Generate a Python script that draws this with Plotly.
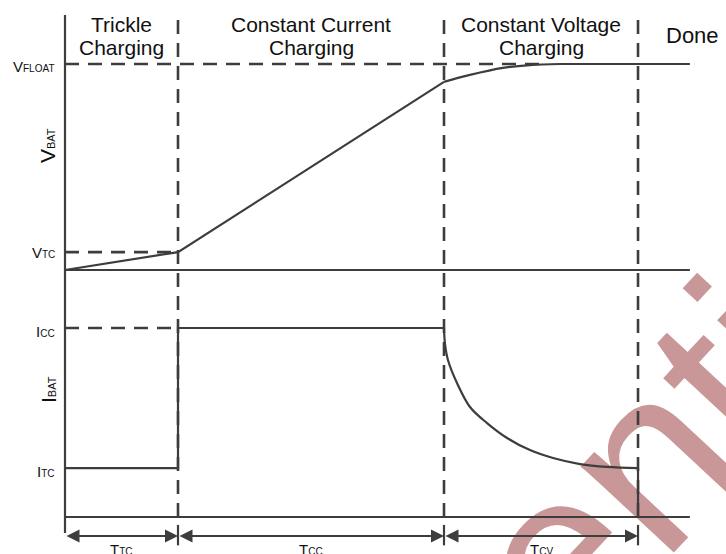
import plotly.graph_objects as go

W, H = 726, 554
INK = "#3d3d3d"
TXT = "#111111"
FONT = "Liberation Sans, Arial, sans-serif"

# time axis (trickle phase = 1 unit): ends of trickle, CC and CV phases, end of trace
phase_ends = [1.0, 3.354, 5.071]
t_stop = 5.53
phase_head = [["Trickle", "Charging"], ["Constant Current", "Charging"],
              ["Constant Voltage", "Charging"]]
phase_time = [("T", "TC"), ("T", "CC"), ("T", "CV")]

# levels: voltage normalised to V_FLOAT, current normalised to I_CC
v_float, v_tc = 1.0, 0.087
i_cc, i_tc = 1.0, 0.259

# battery voltage: trickle + CC ramp, then CV knee
vbat_t = [0.0, 1.0, 3.354]
vbat_v = [0.0, 0.087, 0.913]
vcv_t = [3.354, 3.584, 3.876, 4.115, 4.381]
vcv_v = [0.913, 0.947, 0.981, 0.995, 1.0]

# battery current: trickle step, CC plateau, CV taper
ibat_t = [0.0, 1.0, 1.0, 3.354]
ibat_i = [0.259, 0.259, 1.0, 1.0]
icv_t = [3.354, 3.363, 3.389, 3.469, 3.584, 3.735, 3.912, 4.115, 4.319, 4.558, 4.796, 5.071]
icv_i = [1.0, 0.915, 0.831, 0.709, 0.582, 0.497, 0.418, 0.354, 0.312, 0.280, 0.265, 0.259]

# frame extents in current units
frame_top, frame_bot = 2.656, -0.085
arrow_y, tick_lo, tick_hi = -0.1005, -0.042, -0.15


def paper(px, py):
    return px / W, 1 - py / H


fig = go.Figure()

solid = dict(color=INK, width=2.2)
dashed = dict(color=INK, width=2.6, dash="14px,9px")


def seg(x, y, line, axis="y", shape="linear"):
    fig.add_trace(go.Scatter(x=x, y=y, mode="lines", yaxis=axis,
                             line=dict(line, shape=shape), hoverinfo="skip"))


# frame: left axis, baselines, phase separators
seg([0, 0], [frame_bot, frame_top], solid, "y2")
seg([0, t_stop], [0, 0], solid, "y")
seg([0, t_stop], [0, 0], solid, "y2")
for t in phase_ends:
    seg([t, t], [0, frame_top], dashed, "y2")
    seg([t, t], [tick_lo, tick_hi], solid, "y2")

# reference levels
seg([0, 4.25], [v_float, v_float], dashed, "y")
seg([0, phase_ends[0]], [v_tc, v_tc], dashed, "y")
seg([0, phase_ends[0]], [i_cc, i_cc], dashed, "y2")

# voltage
seg(vbat_t, vbat_v, solid, "y")
seg(vcv_t, vcv_v, solid, "y", "spline")
seg([vcv_t[-1], t_stop], [v_float, v_float], solid, "y")

# current
seg(ibat_t, ibat_i, solid, "y2")
seg(icv_t, icv_i, solid, "y2", "spline")
seg([icv_t[-1], icv_t[-1]], [icv_i[-1], 0], solid, "y2")

ann = []
# duration arrows
starts = [0.0] + phase_ends[:-1]
for a, b in zip(starts, phase_ends):
    ann.append(dict(x=b, y=arrow_y, ax=a, ay=arrow_y, xref="x", yref="y2",
                    axref="x", ayref="y2", text="", showarrow=True,
                    arrowhead=2, startarrowhead=2, arrowside="end+start",
                    arrowsize=1.3, startarrowsize=1.3, arrowwidth=2,
                    arrowcolor=INK, standoff=0, startstandoff=0))


def label(big, small, ss):
    return f"{big}<span style='font-size:{ss}px'>{small}</span>"


for (l1, l2), a, b in zip(phase_head, starts, phase_ends):
    for txt, py in ((l1, 24.7), (l2, 47.7)):
        ann.append(dict(x=(a + b) / 2, y=paper(0, py)[1], xref="x", yref="paper",
                        text=txt, showarrow=False, xanchor="center", yanchor="middle",
                        font=dict(size=21, color=TXT, family=FONT)))
ann.append(dict(x=paper(664, 0)[0], y=paper(0, 35)[1], xref="paper", yref="paper",
                text="Done", showarrow=False, xanchor="left", yanchor="middle",
                font=dict(size=22, color=TXT, family=FONT)))

for (big, small), a, b in zip(phase_time, starts, phase_ends):
    ann.append(dict(x=(a + b) / 2, y=paper(0, 549)[1], xref="x", yref="paper",
                    text=label(big, small, 10), showarrow=False,
                    xanchor="center", yanchor="middle",
                    font=dict(size=15, color=TXT, family=FONT)))

# level labels
for txt, py in ((("V", "FLOAT"), 66), (("V", "TC"), 252),
                (("I", "CC"), 331), (("I", "TC"), 471)):
    ann.append(dict(x=paper(57, 0)[0], y=paper(0, py)[1], xref="paper", yref="paper",
                    text=label(txt[0], txt[1], 10), showarrow=False,
                    xanchor="right", yanchor="middle",
                    font=dict(size=15, color=TXT, family=FONT)))

for txt, py in ((("V", "BAT"), 146), (("I", "BAT"), 390)):
    ann.append(dict(x=paper(48, 0)[0], y=paper(0, py)[1], xref="paper", yref="paper",
                    text=label(txt[0], txt[1], 11), showarrow=False,
                    textangle=-90, xanchor="center", yanchor="middle",
                    font=dict(size=21, color=TXT, family=FONT)))

# watermark, sits underneath the drawing
cx, cy = paper(453, 634)
fig.add_shape(type="rect", xref="paper", yref="paper", x0=cx - 0.01, x1=cx + 0.01,
              y0=cy - 0.01, y1=cy + 0.01, layer="below",
              line=dict(width=0, color="rgba(0,0,0,0)"), fillcolor="rgba(0,0,0,0)",
              label=dict(text="Confidential", textangle=-47, textposition="middle center",
                         font=dict(size=240, color="#c99797", family=FONT)))

fig.update_layout(
    width=W, height=H, margin=dict(l=0, r=0, t=0, b=0),
    paper_bgcolor="white", plot_bgcolor="rgba(0,0,0,0)",
    showlegend=False, annotations=ann,
    xaxis=dict(range=[-65 / 113, 661 / 113], visible=False, fixedrange=True),
    yaxis=dict(range=[-284 / 206, 270 / 206], visible=False, fixedrange=True),
    yaxis2=dict(range=[-37 / 189, 517 / 189], visible=False, overlaying="y",
                fixedrange=True),
)
fig.write_html("out.html", config={"displayModeBar": False},
               post_script="document.body.style.margin='0';"
                           "document.body.style.overflow='hidden';")
